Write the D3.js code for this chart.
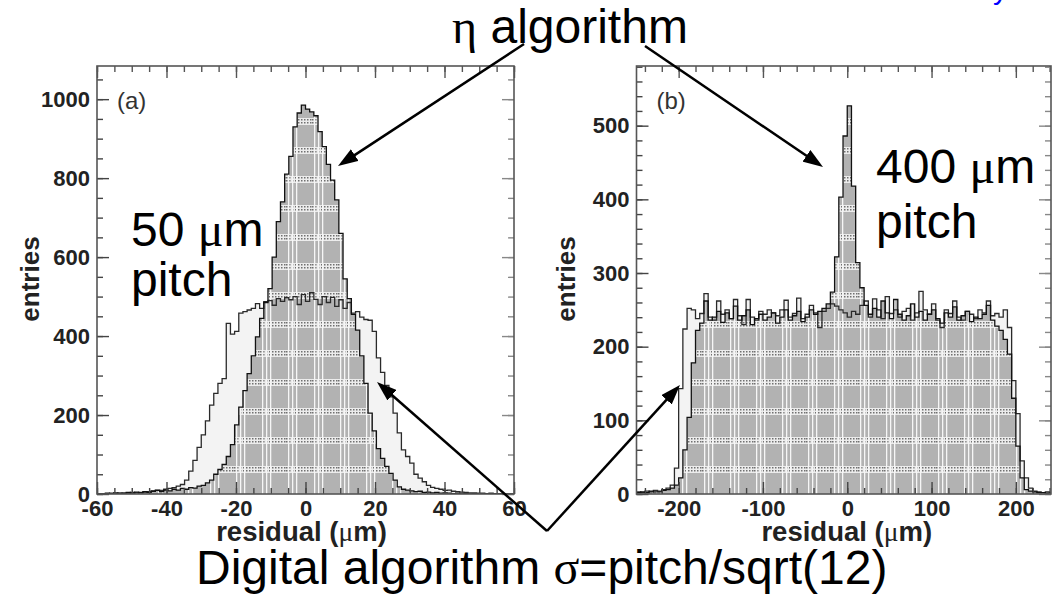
<!DOCTYPE html>
<html><head><meta charset="utf-8">
<script src="https://cdn.jsdelivr.net/npm/d3@7"></script>
<style>html,body{margin:0;padding:0;background:#fff;} svg{display:block;}</style>
</head><body><svg id="c" width="1056" height="599"></svg>
<script>
// ---------------- data ----------------
// Panel (a): 50 um pitch, 100 bins from -60 to 60 um
const leftRange = [-60, 60];
const leftEta = [
  0,0,2,0,3,0,2,4,2,5,
  3,6,4,7,9,6,10,8,12,10,
  14,12,16,15,20,22,28,35,50,62,
  75,95,125,175,220,262,305,350,398,445,
  485,520,600,690,740,810,855,930,965,985,
  975,968,958,918,880,835,795,745,660,545,
  495,455,415,350,280,205,160,115,90,70,
  52,35,18,12,10,8,6,7,4,5,
  3,4,2,3,2,1,2,0,1,0,
  1,0,0,1,0,0,0,0,0,0
];
const leftDigital = [
  0,1,0,2,1,3,2,2,4,3,
  4,5,6,8,10,9,12,14,16,20,
  24,35,58,85,118,150,185,225,255,280,
  292,432,405,412,458,462,466,470,482,470,
  487,490,478,495,488,497,492,500,480,505,
  488,510,493,480,500,485,498,475,492,470,
  485,458,462,448,442,440,412,345,308,275,
  246,205,155,112,95,78,50,40,31,22,
  17,14,12,9,10,7,6,5,4,3,
  3,2,2,1,2,1,0,1,0,0
];
const leftXTicks = [-60,-40,-20,0,20,40,60];
const leftYTicks = [0,200,400,600,800,1000];
const leftYMax = 1084;

// Panel (b): 400 um pitch, 100 bins from -250 to 250 um
const rightRange = [-250, 250];
const rightEta = [
  2,3,2,4,3,3,5,6,8,12,
  22,60,104,178,222,232,262,236,240,248,
  233,246,238,255,236,242,250,230,238,244,
  236,240,246,232,240,250,236,242,248,234,
  240,250,244,248,252,258,274,322,403,486,
  527,418,314,280,256,244,252,240,262,246,
  238,264,244,236,242,258,240,248,236,244,
  250,238,232,246,240,254,236,242,248,234,
  240,238,244,256,236,228,222,210,190,130,
  65,22,6,4,3,2,2,1,2,1
];
const rightDigital = [
  3,2,4,3,5,4,6,8,12,35,
  143,224,252,250,238,245,272,240,236,262,
  244,250,238,264,242,230,264,240,236,248,
  244,250,246,242,250,263,240,245,266,238,
  244,256,246,226,248,252,258,255,250,246,
  240,248,244,256,262,240,265,250,238,268,
  245,250,240,248,252,236,246,275,250,244,
  258,236,226,250,245,262,240,236,248,244,
  238,250,246,262,242,245,240,250,226,154,
  109,45,22,8,4,3,2,3,1,2
];
const rightXTicks = [-200,-100,0,100,200];
const rightYTicks = [0,100,200,300,400,500];
const rightYMax = 581;

// ---------------- drawing ----------------
const svg = d3.select('#c');
const defs = svg.append('defs');
const chk = defs.append('pattern').attr('id','chk').attr('patternUnits','userSpaceOnUse')
  .attr('width',3).attr('height',3);
chk.append('rect').attr('width',3).attr('height',3).attr('fill','#ececec');
chk.append('rect').attr('width',1.5).attr('height',1.5).attr('fill','#707070');
const pat = defs.append('pattern').attr('id','etaPat').attr('patternUnits','userSpaceOnUse')
  .attr('width',26).attr('height',29);
pat.append('rect').attr('width',26).attr('height',29).attr('fill','#b2b2b2');
pat.append('rect').attr('y',2).attr('width',26).attr('height',7).attr('fill','url(#chk)');
[2,6,10].forEach(px => pat.append('rect').attr('x',px).attr('width',1.3).attr('height',29).attr('fill','#f6f6f6'));

const FONT = "'Liberation Sans', Arial, Helvetica, sans-serif";
const SERIF = "'Liberation Serif', 'DejaVu Serif', serif";

function range(a, b, s) { const r = []; for (let v = a; v <= b + 1e-9; v += s) r.push(+v.toFixed(6)); return r; }

function panel(cfg) {
  const x = d3.scaleLinear().domain(cfg.xRange).range([cfg.px0, cfg.pxEnd]);
  const y = d3.scaleLinear().domain([0, cfg.yMax]).range([cfg.py0, cfg.pyTop]);
  const g = svg.append('g');
  const cid = 'clip' + cfg.id;
  defs.append('clipPath').attr('id', cid).append('rect')
    .attr('x', cfg.px0).attr('y', cfg.pyTop).attr('width', cfg.frameRight - cfg.px0).attr('height', cfg.py0 - cfg.pyTop);
  const hg = g.append('g').attr('clip-path', `url(#${cid})`);

  const n = cfg.eta.length;
  const bw = (cfg.xRange[1] - cfg.xRange[0]) / n;
  const pts = vals => [[cfg.xRange[0], 0]]
      .concat(vals.map((v, i) => [cfg.xRange[0] + i * bw, v]))
      .concat([[cfg.xRange[1], vals[n - 1]], [cfg.xRange[1], 0]]);
  const area = d3.area().curve(d3.curveStepAfter).x(d => x(d[0])).y0(y(0)).y1(d => y(d[1]));
  const line = d3.line().curve(d3.curveStepAfter).x(d => x(d[0])).y(d => y(d[1]));

  hg.append('path').attr('d', area(pts(cfg.digital))).attr('fill', '#f3f3f3');
  hg.append('path').attr('d', area(pts(cfg.eta))).attr('fill', 'url(#etaPat)');
  hg.append('path').attr('d', line(pts(cfg.digital))).attr('fill', 'none').attr('stroke', '#2a2a2a').attr('stroke-width', 1.3);
  hg.append('path').attr('d', line(pts(cfg.eta))).attr('fill', 'none').attr('stroke', '#111').attr('stroke-width', 1.3);

  const style = (sel, col) => {
    sel.select('.domain').remove();
    sel.selectAll('line').attr('stroke', col).attr('stroke-width', 1.4);
    sel.selectAll('text').attr('font-family', FONT).attr('font-weight', 'bold').attr('font-size', 22).attr('fill', '#222');
  };
  // bottom
  g.append('g').attr('transform', `translate(0,${cfg.py0})`)
    .call(d3.axisBottom(x).tickValues(cfg.xMinor).tickSizeInner(-6).tickSizeOuter(0).tickFormat(''))
    .call(s => style(s, '#444'));
  g.append('g').attr('transform', `translate(0,${cfg.py0})`)
    .call(d3.axisBottom(x).tickValues(cfg.xTicks).tickSizeInner(-12).tickSizeOuter(0).tickPadding(6).tickFormat(d => String(d)))
    .call(s => style(s, '#444'));
  // top
  g.append('g').attr('transform', `translate(0,${cfg.pyTop})`)
    .call(d3.axisTop(x).tickValues(cfg.xMinor).tickSizeInner(-6).tickSizeOuter(0).tickFormat(''))
    .call(s => style(s, '#555'));
  g.append('g').attr('transform', `translate(0,${cfg.pyTop})`)
    .call(d3.axisTop(x).tickValues(cfg.xTicks).tickSizeInner(-12).tickSizeOuter(0).tickFormat(''))
    .call(s => style(s, '#555'));
  // left
  g.append('g').attr('transform', `translate(${cfg.px0},0)`)
    .call(d3.axisLeft(y).tickValues(cfg.yMinor).tickSizeInner(-6).tickSizeOuter(0).tickFormat(''))
    .call(s => style(s, '#444'));
  g.append('g').attr('transform', `translate(${cfg.px0},0)`)
    .call(d3.axisLeft(y).tickValues(cfg.yTicks).tickSizeInner(-12).tickSizeOuter(0).tickPadding(7).tickFormat(d => String(d)))
    .call(s => style(s, '#444'));
  // right
  g.append('g').attr('transform', `translate(${cfg.frameRight},0)`)
    .call(d3.axisRight(y).tickValues(cfg.yMinor).tickSizeInner(-6).tickSizeOuter(0).tickFormat(''))
    .call(s => style(s, '#888'));
  g.append('g').attr('transform', `translate(${cfg.frameRight},0)`)
    .call(d3.axisRight(y).tickValues(cfg.yTicks).tickSizeInner(-12).tickSizeOuter(0).tickFormat(''))
    .call(s => style(s, '#888'));

  g.append('rect').attr('x', cfg.px0).attr('y', cfg.pyTop)
    .attr('width', cfg.frameRight - cfg.px0).attr('height', cfg.py0 - cfg.pyTop)
    .attr('fill', 'none').attr('stroke', '#555').attr('stroke-width', 1.6);

  // labels
  const xl = g.append('text').attr('x', (cfg.px0 + cfg.frameRight) / 2 + cfg.xlabDx).attr('y', 541)
    .attr('text-anchor', 'middle').attr('font-family', FONT).attr('font-weight', 'bold').attr('font-size', 27.5).attr('fill', '#222');
  xl.append('tspan').text('residual (');
  xl.append('tspan').attr('font-family', SERIF).attr('font-weight', 'normal').text('μ');
  xl.append('tspan').text('m)');
  g.append('text').attr('transform', `translate(${cfg.ylabX},279) rotate(-90)`)
    .attr('text-anchor', 'middle').attr('font-family', FONT).attr('font-weight', 'bold').attr('font-size', 26).attr('fill', '#222')
    .text('entries');
  g.append('text').attr('x', cfg.px0 + 20).attr('y', 109).attr('font-family', FONT).attr('font-size', 24).attr('fill', '#333').text(cfg.tag);
}

panel({ id: 'a', xRange: leftRange, px0: 97, pxEnd: 514, frameRight: 514, py0: 494, pyTop: 66, yMax: leftYMax,
  eta: leftEta, digital: leftDigital, xTicks: leftXTicks, xMinor: range(-60, 60, 5),
  yTicks: leftYTicks, yMinor: range(0, 1050, 50), ylabX: 39, xlabDx: -4, tag: '(a)' });
panel({ id: 'b', xRange: rightRange, px0: 636.5, pxEnd: 1058, frameRight: 1051, py0: 494, pyTop: 66, yMax: rightYMax,
  eta: rightEta, digital: rightDigital, xTicks: rightXTicks, xMinor: range(-240, 240, 20),
  yTicks: rightYTicks, yMinor: range(0, 580, 20), ylabX: 575, xlabDx: 3, tag: '(b)' });

// ---------------- annotations ----------------
function bigText(x, y, parts) {
  const t = svg.append('text').attr('x', x).attr('y', y).attr('font-family', FONT).attr('font-size', 48).attr('fill', '#000');
  parts.forEach(p => t.append('tspan').attr('font-family', p.serif ? SERIF : FONT).text(p.t));
}
bigText(452, 43, [{t: 'η', serif: true}, {t: ' algorithm'}]);
bigText(131, 246, [{t: '50 '}, {t: 'μ', serif: true}, {t: 'm'}]);
bigText(131, 296, [{t: 'pitch'}]);
bigText(876, 183, [{t: '400 '}, {t: 'μ', serif: true}, {t: 'm'}]);
bigText(876, 238, [{t: 'pitch'}]);
bigText(196, 584, [{t: 'Digital algorithm '}, {t: 'σ', serif: true}, {t: '=pitch/sqrt(12)'}]);

svg.append('text').attr('x', 993).attr('y', -1).attr('font-family', FONT).attr('font-size', 30).attr('fill', '#0000ff').text('y');

defs.append('marker').attr('id', 'ah').attr('markerUnits', 'userSpaceOnUse').attr('viewBox', '0 0 20 14')
  .attr('refX', 12).attr('refY', 7).attr('markerWidth', 20).attr('markerHeight', 14).attr('orient', 'auto')
  .append('path').attr('d', 'M0,0 L20,7 L0,14 Z').attr('fill', '#000');

function arrow(x1, y1, x2, y2, head) {
  const dx = x2 - x1, dy = y2 - y1, L = Math.hypot(dx, dy);
  const ex = head ? x2 - dx / L * 8 : x2, ey = head ? y2 - dy / L * 8 : y2;
  const l = svg.append('line').attr('x1', x1).attr('y1', y1).attr('x2', ex).attr('y2', ey)
    .attr('stroke', '#000').attr('stroke-width', 2.5);
  if (head) l.attr('marker-end', 'url(#ah)');
}
arrow(524, 44, 338, 166, true);
arrow(645, 46, 823, 167, true);
arrow(547, 531, 377, 382, true);
arrow(547, 531, 680, 385, true);
</script></body></html>
